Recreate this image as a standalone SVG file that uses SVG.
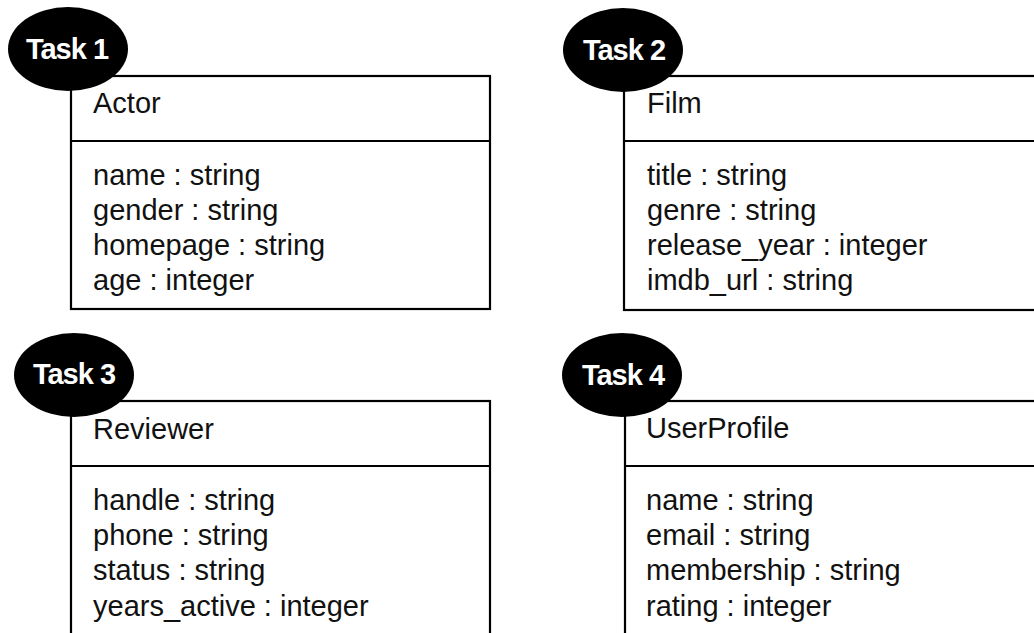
<svg xmlns="http://www.w3.org/2000/svg" width="1034" height="633" viewBox="0 0 1034 633">
  <style>
    .box { fill: #ffffff; stroke: #000000; stroke-width: 2.2; }
    .div { stroke: #000000; stroke-width: 2.2; }
    .badge { fill: #000000; }
    .badge-text { font-family: "Liberation Sans", Arial, Helvetica, sans-serif; font-size: 29px; font-weight: bold; fill: #ffffff; text-anchor: middle; letter-spacing: -1px; }
    .t { font-family: "Liberation Sans", Arial, Helvetica, sans-serif; font-size: 29px; fill: #111111; }
  </style>
  <rect width="1034" height="633" fill="#ffffff"/>
  <g id="connectors"/>

  <g id="task1">
    <rect class="box" x="71" y="76" width="419" height="233"/>
    <line class="div" x1="71" y1="141" x2="490" y2="141"/>
    <text class="t" x="93" y="113">Actor</text>
    <text class="t" x="93" y="185">name : string</text>
    <text class="t" x="93" y="220">gender : string</text>
    <text class="t" x="93" y="255">homepage : string</text>
    <text class="t" x="93" y="290">age : integer</text>
    <ellipse class="badge" cx="68" cy="49" rx="60" ry="42"/>
    <text class="badge-text" x="67" y="59">Task 1</text>
  </g>

  <g id="task2">
    <rect class="box" x="624" y="76" width="430" height="234"/>
    <line class="div" x1="624" y1="141" x2="1054" y2="141"/>
    <text class="t" x="647" y="113">Film</text>
    <text class="t" x="647" y="185">title : string</text>
    <text class="t" x="647" y="220">genre : string</text>
    <text class="t" x="647" y="255">release_year : integer</text>
    <text class="t" x="647" y="290">imdb_url : string</text>
    <ellipse class="badge" cx="623" cy="50" rx="60" ry="42"/>
    <text class="badge-text" x="624" y="60">Task 2</text>
  </g>

  <g id="task3">
    <rect class="box" x="71" y="401" width="419" height="260"/>
    <line class="div" x1="71" y1="466" x2="490" y2="466"/>
    <text class="t" x="93" y="439">Reviewer</text>
    <text class="t" x="93" y="510">handle : string</text>
    <text class="t" x="93" y="545">phone : string</text>
    <text class="t" x="93" y="580">status : string</text>
    <text class="t" x="93" y="616">years_active : integer</text>
    <ellipse class="badge" cx="74" cy="375" rx="60" ry="42"/>
    <text class="badge-text" x="74" y="384">Task 3</text>
  </g>

  <g id="task4">
    <rect class="box" x="625" y="401" width="430" height="260"/>
    <line class="div" x1="625" y1="466" x2="1055" y2="466"/>
    <text class="t" x="646" y="438">UserProfile</text>
    <text class="t" x="646" y="510">name : string</text>
    <text class="t" x="646" y="545">email : string</text>
    <text class="t" x="646" y="580">membership : string</text>
    <text class="t" x="646" y="616">rating : integer</text>
    <ellipse class="badge" cx="622" cy="375" rx="60" ry="42"/>
    <text class="badge-text" x="623" y="385">Task 4</text>
  </g>
</svg>
